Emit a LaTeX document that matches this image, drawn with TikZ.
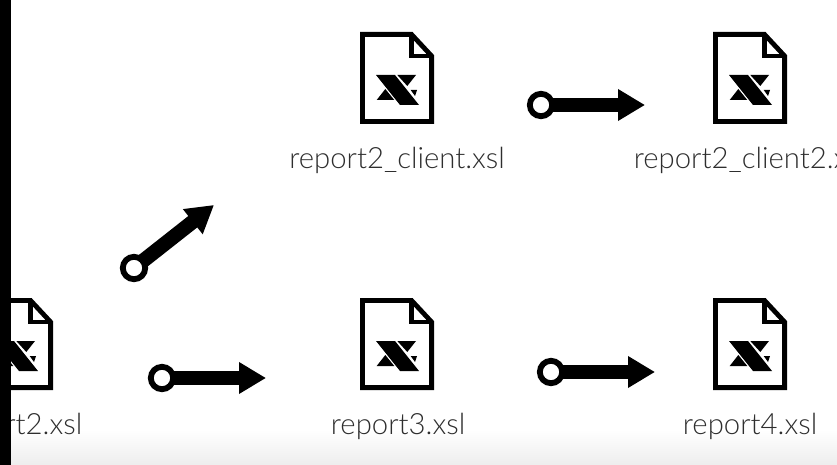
\documentclass[tikz,border=0pt]{standalone}
\usepackage{fontspec}
\setmainfont{Lato Light}
\usetikzlibrary{arrows.meta}
\definecolor{labelgray}{HTML}{2E2E2E}
\tikzset{
  x=1pt,y=-1pt,
  ringnode/.style={circle,draw=black,fill=white,line width=5.8pt,minimum size=22.4pt,inner sep=0pt,outer sep=0pt},
  shaft/.style={line width=14.5pt,draw=black,-{Triangle[length=27pt,width=30pt,fill=black]}},
  filelabel/.style={font=\fontsize{29.3}{29.3}\selectfont,text=labelgray,anchor=base,inner sep=0pt},
  filebody/.style={draw=black,line width=4.8pt,miter limit=10,fill=white},
  doc/.pic={
    \draw[filebody] (2.4,2.4) -- (51.5,2.4) -- (71.6,24) -- (71.6,89.6) -- (2.4,89.6) -- cycle;
    \draw[draw=black,line width=4.8pt] (51.5,2.4) -- (51.5,24) -- (71.6,24);
    \fill[black] (16,43) -- (35,43) -- (59,73) -- (40,73) -- cycle;
    \fill[black] (37.3,43) -- (56,43) -- (47.3,54) -- cycle;
    \fill[black] (16.7,68) -- (25.3,57) -- (34.3,68) -- cycle;
    \fill[black] (50.7,58) -- (57,58) -- (55,64) -- cycle;
  }
}
\begin{document}
\begin{tikzpicture}
\useasboundingbox (0,0) rectangle (837,465);
\clip (0,0) rectangle (837,465);
\shade[top color=white,bottom color=black!7] (0,430) rectangle (837,465);
% documents
\pic at (360,32) {doc};
\pic at (713,32) {doc};
\pic at (360,298) {doc};
\pic at (713,298) {doc};
\pic at (-21,298) {doc};
% labels
\node[filelabel] (l1) at (397,168) {report2\_client.xsl};
\node[filelabel] (l2) at (750,168) {report2\_client2.xsl};
\node[filelabel] (l3) at (398,434) {report3.xsl};
\node[filelabel] (l4) at (750,434) {report4.xsl};
\node[filelabel] (l5) at (15,434) {report2.xsl};
% connectors
\coordinate (ta) at (645,105);
\coordinate (tb) at (214,205);
\coordinate (tc) at (266,378);
\coordinate (td) at (655,372);
\node[ringnode] (ra) at (541,105) {};
\node[ringnode] (rb) at (134,268) {};
\node[ringnode] (rc) at (162,378) {};
\node[ringnode] (rd) at (551,372) {};
\draw[shaft] (ra) -- (ta);
\draw[shaft] (rb) -- (tb);
\draw[shaft] (rc) -- (tc);
\draw[shaft] (rd) -- (td);
% left bar
\fill[black] (0,0) rectangle (11,465);
\end{tikzpicture}
\end{document}
